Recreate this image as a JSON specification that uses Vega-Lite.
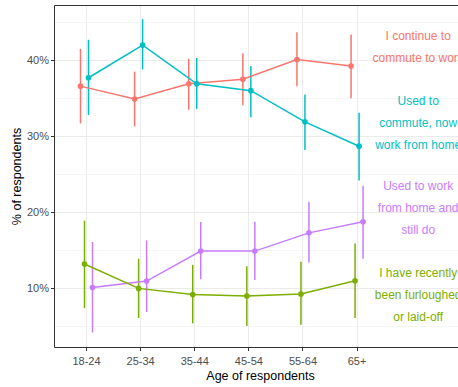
{
  "$schema": "https://vega.github.io/schema/vega-lite/v6.json",
  "autosize": "none",
  "width": 404,
  "height": 342,
  "padding": {"left": 54, "top": 5, "right": 0, "bottom": 40},
  "background": "white",
  "config": {
    "view": {"stroke": null},
    "font": "Liberation Sans",
    "axis": {
      "labelFont": "Liberation Sans",
      "titleFont": "Liberation Sans",
      "labelFontSize": 11,
      "labelColor": "#4D4D4D",
      "titleFontSize": 12.5,
      "titleFontWeight": "normal",
      "titleColor": "#000000",
      "domainColor": "#333333",
      "domainWidth": 1,
      "tickColor": "#333333",
      "tickSize": 3.5,
      "gridColor": "#EBEBEB",
      "gridWidth": 1
    }
  },
  "resolve": {"axis": {"x": "independent", "y": "independent"}},
  "datasets": {
    "est": [
      {"age": "18-24", "status": "I continue to commute to work", "pct": 0.366, "lo": 0.317, "hi": 0.415},
      {"age": "25-34", "status": "I continue to commute to work", "pct": 0.349, "lo": 0.313, "hi": 0.385},
      {"age": "35-44", "status": "I continue to commute to work", "pct": 0.369, "lo": 0.335, "hi": 0.402},
      {"age": "45-54", "status": "I continue to commute to work", "pct": 0.375, "lo": 0.341, "hi": 0.409},
      {"age": "55-64", "status": "I continue to commute to work", "pct": 0.401, "lo": 0.366, "hi": 0.437},
      {"age": "65+", "status": "I continue to commute to work", "pct": 0.3925, "lo": 0.350, "hi": 0.434},
      {"age": "18-24", "status": "Used to commute, now work from home", "pct": 0.377, "lo": 0.328, "hi": 0.427},
      {"age": "25-34", "status": "Used to commute, now work from home", "pct": 0.420, "lo": 0.388, "hi": 0.454},
      {"age": "35-44", "status": "Used to commute, now work from home", "pct": 0.369, "lo": 0.336, "hi": 0.403},
      {"age": "45-54", "status": "Used to commute, now work from home", "pct": 0.360, "lo": 0.325, "hi": 0.3925},
      {"age": "55-64", "status": "Used to commute, now work from home", "pct": 0.319, "lo": 0.282, "hi": 0.355},
      {"age": "65+", "status": "Used to commute, now work from home", "pct": 0.287, "lo": 0.242, "hi": 0.331},
      {"age": "18-24", "status": "Used to work from home and still do", "pct": 0.101, "lo": 0.042, "hi": 0.161},
      {"age": "25-34", "status": "Used to work from home and still do", "pct": 0.1096, "lo": 0.069, "hi": 0.163},
      {"age": "35-44", "status": "Used to work from home and still do", "pct": 0.149, "lo": 0.112, "hi": 0.1875},
      {"age": "45-54", "status": "Used to work from home and still do", "pct": 0.149, "lo": 0.111, "hi": 0.1875},
      {"age": "55-64", "status": "Used to work from home and still do", "pct": 0.173, "lo": 0.134, "hi": 0.214},
      {"age": "65+", "status": "Used to work from home and still do", "pct": 0.1875, "lo": 0.139, "hi": 0.235},
      {"age": "18-24", "status": "I have recently been furloughed or laid-off", "pct": 0.132, "lo": 0.074, "hi": 0.189},
      {"age": "25-34", "status": "I have recently been furloughed or laid-off", "pct": 0.100, "lo": 0.061, "hi": 0.139},
      {"age": "35-44", "status": "I have recently been furloughed or laid-off", "pct": 0.092, "lo": 0.054, "hi": 0.131},
      {"age": "45-54", "status": "I have recently been furloughed or laid-off", "pct": 0.090, "lo": 0.0505, "hi": 0.129},
      {"age": "55-64", "status": "I have recently been furloughed or laid-off", "pct": 0.0925, "lo": 0.052, "hi": 0.135},
      {"age": "65+", "status": "I have recently been furloughed or laid-off", "pct": 0.110, "lo": 0.061, "hi": 0.159}
    ],
    "labels": [
      {"age": "labels", "status": "I continue to commute to work", "pos": 0.4315, "label": "I continue to\ncommute to work"},
      {"age": "labels", "status": "Used to commute, now work from home", "pos": 0.3465, "label": "Used to\ncommute, now\nwork from home"},
      {"age": "labels", "status": "Used to work from home and still do", "pos": 0.2344, "label": "Used to work\nfrom home and\nstill do"},
      {"age": "labels", "status": "I have recently been furloughed or laid-off", "pos": 0.1205, "label": "I have recently\nbeen furloughed\nor laid-off"}
    ]
  },
  "layer": [
    {
      "data": {"name": "est"},
      "mark": {"type": "rule", "strokeWidth": 1.5},
      "encoding": {
        "x": {
          "field": "age", "type": "nominal",
          "scale": {"type": "band", "domain": ["18-24", "25-34", "35-44", "45-54", "55-64", "65+", "labels"], "paddingInner": 0, "paddingOuter": 0.233, "align": 0.216},
          "axis": {"values": ["18-24", "25-34", "35-44", "45-54", "55-64", "65+"], "bandPosition": 0.5, "labelAngle": 0, "grid": true, "title": "Age of respondents", "titlePadding": 3, "labelPadding": 4.5, "titleX": 206}
        },
        "xOffset": {
          "field": "status", "type": "nominal",
          "scale": {"type": "point", "domain": ["I continue to commute to work", "I have recently been furloughed or laid-off", "Used to commute, now work from home", "Used to work from home and still do"], "range": [21.06, 33.06], "padding": 0}
        },
        "y": {
          "field": "lo", "type": "quantitative",
          "scale": {"domain": [0.0229, 0.4727], "nice": false, "zero": false},
          "axis": {"values": [0.1, 0.2, 0.3, 0.4], "format": ".0%", "title": "% of respondents", "titlePadding": 3, "labelPadding": 2, "grid": true}
        },
        "y2": {"field": "hi"},
        "color": {
          "field": "status", "type": "nominal",
          "scale": {"domain": ["I continue to commute to work", "I have recently been furloughed or laid-off", "Used to commute, now work from home", "Used to work from home and still do"], "range": ["#F8766D", "#7CAE00", "#00BFC4", "#C77CFF"]},
          "legend": null
        }
      }
    },
    {
      "data": {"name": "est"},
      "mark": {"type": "line", "strokeWidth": 1.5},
      "encoding": {
        "x": {"field": "age", "type": "nominal", "axis": null},
        "xOffset": {"field": "status", "type": "nominal"},
        "y": {"field": "pct", "type": "quantitative", "axis": null},
        "color": {"field": "status", "type": "nominal"}
      }
    },
    {
      "data": {"name": "est"},
      "mark": {"type": "point", "filled": true, "opacity": 1, "size": 32},
      "encoding": {
        "x": {"field": "age", "type": "nominal", "axis": null},
        "xOffset": {"field": "status", "type": "nominal"},
        "y": {"field": "pct", "type": "quantitative",
          "axis": {"orient": "right", "values": [0.05, 0.15, 0.25, 0.35, 0.45], "grid": true, "gridWidth": 0.6, "gridColor": "#EFEFEF", "labels": false, "ticks": false, "domain": false, "title": null}},
        "color": {"field": "status", "type": "nominal"}
      }
    },
    {
      "data": {"name": "labels"},
      "mark": {"type": "text", "fontSize": 12, "lineBreak": "\n", "lineHeight": 22, "align": "center", "baseline": "middle", "dx": 7, "font": "Liberation Sans"},
      "encoding": {
        "x": {"field": "age", "type": "nominal",
          "axis": {"orient": "top", "values": [], "domain": true, "ticks": false, "labels": false, "grid": false, "title": null}},
        "y": {"field": "pos", "type": "quantitative", "axis": null},
        "text": {"field": "label"},
        "color": {"field": "status", "type": "nominal"}
      }
    }
  ]
}
